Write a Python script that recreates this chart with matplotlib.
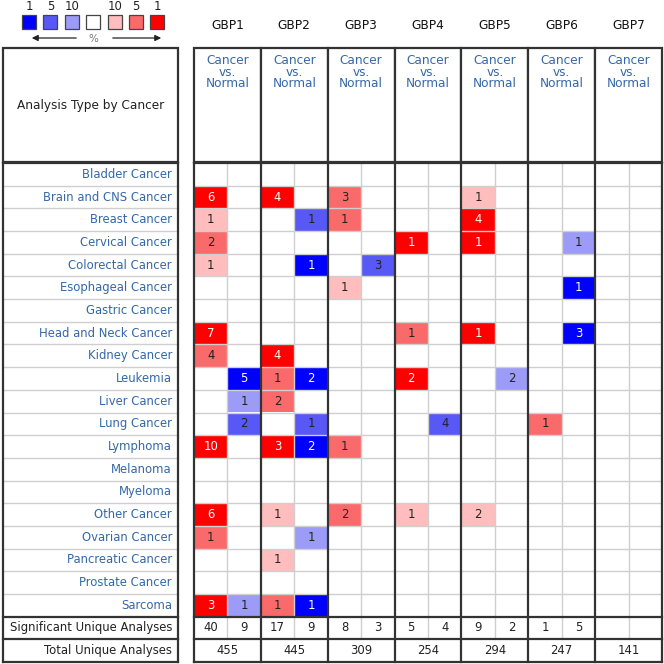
import matplotlib
matplotlib.use('Agg')
import matplotlib.pyplot as plt
from matplotlib.patches import Rectangle

# ---------------- data ----------------
genes = ['GBP1', 'GBP2', 'GBP3', 'GBP4', 'GBP5', 'GBP6', 'GBP7']
cancers = ['Bladder Cancer', 'Brain and CNS Cancer', 'Breast Cancer', 'Cervical Cancer',
           'Colorectal Cancer', 'Esophageal Cancer', 'Gastric Cancer', 'Head and Neck Cancer',
           'Kidney Cancer', 'Leukemia', 'Liver Cancer', 'Lung Cancer', 'Lymphoma',
           'Melanoma', 'Myeloma', 'Other Cancer', 'Ovarian Cancer', 'Pancreatic Cancer',
           'Prostate Cancer', 'Sarcoma']

# number of analyses with over-expression (red) per cancer x gene
up_counts = [
    [0, 0, 0, 0, 0, 0, 0],
    [6, 4, 3, 0, 1, 0, 0],
    [1, 0, 1, 0, 4, 0, 0],
    [2, 0, 0, 1, 1, 0, 0],
    [1, 0, 0, 0, 0, 0, 0],
    [0, 0, 1, 0, 0, 0, 0],
    [0, 0, 0, 0, 0, 0, 0],
    [7, 0, 0, 1, 1, 0, 0],
    [4, 4, 0, 0, 0, 0, 0],
    [0, 1, 0, 2, 0, 0, 0],
    [0, 2, 0, 0, 0, 0, 0],
    [0, 0, 0, 0, 0, 1, 0],
    [10, 3, 1, 0, 0, 0, 0],
    [0, 0, 0, 0, 0, 0, 0],
    [0, 0, 0, 0, 0, 0, 0],
    [6, 1, 2, 1, 2, 0, 0],
    [1, 0, 0, 0, 0, 0, 0],
    [0, 1, 0, 0, 0, 0, 0],
    [0, 0, 0, 0, 0, 0, 0],
    [3, 1, 0, 0, 0, 0, 0],
]
# gene rank percentile of best over-expression analysis (1, 5, 10 %)
up_rank = [
    [0, 0, 0, 0, 0, 0, 0],
    [1, 1, 5, 0, 10, 0, 0],
    [10, 0, 5, 0, 1, 0, 0],
    [5, 0, 0, 1, 1, 0, 0],
    [10, 0, 0, 0, 0, 0, 0],
    [0, 0, 10, 0, 0, 0, 0],
    [0, 0, 0, 0, 0, 0, 0],
    [1, 0, 0, 5, 1, 0, 0],
    [5, 1, 0, 0, 0, 0, 0],
    [0, 5, 0, 1, 0, 0, 0],
    [0, 5, 0, 0, 0, 0, 0],
    [0, 0, 0, 0, 0, 5, 0],
    [1, 1, 5, 0, 0, 0, 0],
    [0, 0, 0, 0, 0, 0, 0],
    [0, 0, 0, 0, 0, 0, 0],
    [1, 10, 5, 10, 10, 0, 0],
    [5, 0, 0, 0, 0, 0, 0],
    [0, 10, 0, 0, 0, 0, 0],
    [0, 0, 0, 0, 0, 0, 0],
    [1, 5, 0, 0, 0, 0, 0],
]
# number of analyses with under-expression (blue)
down_counts = [
    [0, 0, 0, 0, 0, 0, 0],
    [0, 0, 0, 0, 0, 0, 0],
    [0, 1, 0, 0, 0, 0, 0],
    [0, 0, 0, 0, 0, 1, 0],
    [0, 1, 3, 0, 0, 0, 0],
    [0, 0, 0, 0, 0, 1, 0],
    [0, 0, 0, 0, 0, 0, 0],
    [0, 0, 0, 0, 0, 3, 0],
    [0, 0, 0, 0, 0, 0, 0],
    [5, 2, 0, 0, 2, 0, 0],
    [1, 0, 0, 0, 0, 0, 0],
    [2, 1, 0, 4, 0, 0, 0],
    [0, 2, 0, 0, 0, 0, 0],
    [0, 0, 0, 0, 0, 0, 0],
    [0, 0, 0, 0, 0, 0, 0],
    [0, 0, 0, 0, 0, 0, 0],
    [0, 1, 0, 0, 0, 0, 0],
    [0, 0, 0, 0, 0, 0, 0],
    [0, 0, 0, 0, 0, 0, 0],
    [1, 1, 0, 0, 0, 0, 0],
]
down_rank = [
    [0, 0, 0, 0, 0, 0, 0],
    [0, 0, 0, 0, 0, 0, 0],
    [0, 5, 0, 0, 0, 0, 0],
    [0, 0, 0, 0, 0, 10, 0],
    [0, 1, 5, 0, 0, 0, 0],
    [0, 0, 0, 0, 0, 1, 0],
    [0, 0, 0, 0, 0, 0, 0],
    [0, 0, 0, 0, 0, 1, 0],
    [0, 0, 0, 0, 0, 0, 0],
    [1, 1, 0, 0, 10, 0, 0],
    [10, 0, 0, 0, 0, 0, 0],
    [5, 5, 0, 5, 0, 0, 0],
    [0, 1, 0, 0, 0, 0, 0],
    [0, 0, 0, 0, 0, 0, 0],
    [0, 0, 0, 0, 0, 0, 0],
    [0, 0, 0, 0, 0, 0, 0],
    [0, 10, 0, 0, 0, 0, 0],
    [0, 0, 0, 0, 0, 0, 0],
    [0, 0, 0, 0, 0, 0, 0],
    [10, 1, 0, 0, 0, 0, 0],
]
sig_up = [40, 17, 8, 5, 9, 1, None]
sig_down = [9, 9, 3, 4, 2, 5, None]
total_analyses = [455, 445, 309, 254, 294, 247, 141]
legend_ranks = [1, 5, 10, 0, 10, 5, 1]
legend_sides = ['down', 'down', 'down', 'none', 'up', 'up', 'up']

# ---------------- styles ----------------
red_shades = {1: '#ff0000', 5: '#fb6a6a', 10: '#ffbdbd'}
blue_shades = {1: '#0000ff', 5: '#5858f6', 10: '#9c9cf8'}
DARK = '#333333'
GRAY = '#cfcfcf'
BLUE_TXT = '#3568a8'
TXT = '#222222'
FS = 8.4

W = H = 664
fig = plt.figure(figsize=(6.64, 6.64), dpi=100)


def px_axes(x0, y0, x1, y1):
    ax = fig.add_axes([x0 / W, 1 - y1 / H, (x1 - x0) / W, (y1 - y0) / H])
    ax.axis('off')
    return ax


# ---------------- legend overlay ----------------
ov = px_axes(0, 0, W, H)
ov.set_xlim(0, W)
ov.set_ylim(H, 0)
for i, (rk, side) in enumerate(zip(legend_ranks, legend_sides)):
    x = 22 + i * 21.4
    if side == 'down':
        fc = blue_shades[rk]
    elif side == 'up':
        fc = red_shades[rk]
    else:
        fc = 'white'
    ov.add_patch(Rectangle((x, 15), 14, 14, facecolor=fc, edgecolor='#444444', lw=0.9))
    if rk:
        ov.text(x + 7, 7, str(rk), ha='center', va='center', fontsize=FS, color=TXT)
ov.annotate('', xy=(29, 38), xytext=(79, 38),
            arrowprops=dict(arrowstyle='-|>', color=TXT, lw=0.9, mutation_scale=9))
ov.annotate('', xy=(164, 38), xytext=(110, 38),
            arrowprops=dict(arrowstyle='-|>', color=TXT, lw=0.9, mutation_scale=9))
ov.text(93, 39, '%', ha='center', va='center', fontsize=7.5, color='#777777')

# ---------------- left panel ----------------
nrows = len(cancers) + 2
lh = px_axes(3, 48, 178, 162)
lh.set_xlim(0, 1)
lh.set_ylim(1, 0)
lh.add_patch(Rectangle((0, 0), 1, 1, facecolor='white', edgecolor=DARK, lw=1.6, clip_on=False))
lh.text(0.5, 0.5, 'Analysis Type by Cancer', ha='center', va='center', fontsize=FS + 0.3,
        color=TXT)

lp = px_axes(3, 163, 178, 662)
lp.set_xlim(0, 1)
lp.set_ylim(nrows, 0)
for r, name in enumerate(cancers):
    lp.text(0.965, r + 0.5, name, ha='right', va='center', fontsize=FS, color=BLUE_TXT)
lp.text(0.965, len(cancers) + 0.5, 'Significant Unique Analyses', ha='right', va='center',
        fontsize=FS, color=TXT)
lp.text(0.965, len(cancers) + 1.5, 'Total Unique Analyses', ha='right', va='center',
        fontsize=FS, color=TXT)
for r in range(1, len(cancers)):
    lp.plot([0, 1], [r, r], color=GRAY, lw=1.0, clip_on=False)
for r in [0, len(cancers), len(cancers) + 1, nrows]:
    lp.plot([0, 1], [r, r], color=DARK, lw=1.6, clip_on=False)
for x in [0, 1]:
    lp.plot([x, x], [0, nrows], color=DARK, lw=1.6, clip_on=False)

# ---------------- grid header ----------------
ng = len(genes)
gh = px_axes(194, 48, 662, 162)
gh.set_xlim(0, 2 * ng)
gh.set_ylim(1, 0)
for g, name in enumerate(genes):
    gh.add_patch(Rectangle((2 * g, 0), 2, 1, facecolor='white', edgecolor=DARK, lw=1.6,
                           clip_on=False))
    gh.text(2 * g + 1, 0.055, 'Cancer\nvs.\nNormal', ha='center', va='top', fontsize=FS + 0.3,
            color=BLUE_TXT, linespacing=0.85)
    gh.text(2 * g + 1, -0.2, name, ha='center', va='center', fontsize=FS + 0.3,
            color='#111111', clip_on=False)

# ---------------- grid body ----------------
ax = px_axes(194, 163, 662, 662)
ax.set_xlim(0, 2 * ng)
ax.set_ylim(nrows, 0)


def draw_cell(col, row, count, rank, shades):
    if not count:
        return
    fc = shades[rank]
    ax.add_patch(Rectangle((col, row), 1, 1, facecolor=fc, edgecolor='none'))
    tc = 'white' if rank == 1 else '#222222'
    ax.text(col + 0.5, row + 0.5, str(count), ha='center', va='center', fontsize=FS,
            color=tc)


for r in range(len(cancers)):
    for g in range(ng):
        draw_cell(2 * g, r, up_counts[r][g], up_rank[r][g], red_shades)
        draw_cell(2 * g + 1, r, down_counts[r][g], down_rank[r][g], blue_shades)

sr = len(cancers)
for g in range(ng):
    if sig_up[g] is not None:
        ax.text(2 * g + 0.5, sr + 0.5, str(sig_up[g]), ha='center', va='center',
                fontsize=FS, color=TXT)
    if sig_down[g] is not None:
        ax.text(2 * g + 1.5, sr + 0.5, str(sig_down[g]), ha='center', va='center',
                fontsize=FS, color=TXT)
    ax.text(2 * g + 1, sr + 1.5, str(total_analyses[g]), ha='center', va='center',
            fontsize=FS, color=TXT)

# grid lines
for r in range(1, len(cancers)):
    ax.plot([0, 2 * ng], [r, r], color=GRAY, lw=1.0, zorder=3)
for g in range(ng):
    ax.plot([2 * g + 1, 2 * g + 1], [0, sr + 1], color=GRAY, lw=1.0, zorder=3)
for r in [0, sr, sr + 1, nrows]:
    ax.plot([0, 2 * ng], [r, r], color=DARK, lw=1.6, zorder=4, clip_on=False)
for g in range(ng + 1):
    ax.plot([2 * g, 2 * g], [0, nrows], color=DARK, lw=1.6, zorder=4, clip_on=False)

fig.savefig('out.png', dpi=100)
